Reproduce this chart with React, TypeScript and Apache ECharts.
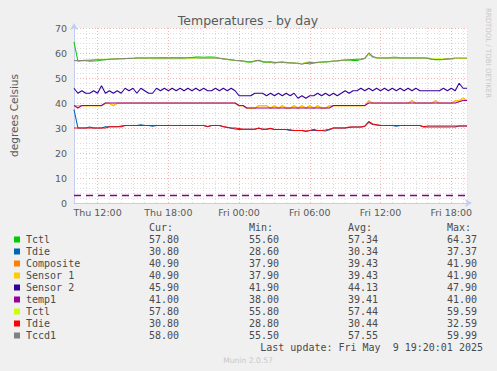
import React, { useEffect, useRef } from "react";
import * as echarts from "echarts";

// ---- time grid (hours since Thu 00:00) ----
const startHour = 10; // first sample, Thu 10:00
const stepHours = 1 / 3; // one sample every 20 minutes
const axisMinHour = 10;
const axisMaxHour = 43.333;
const majorHours = [12, 18, 24, 30, 36, 42];
const majorLabels = ["Thu 12:00", "Thu 18:00", "Fri 00:00", "Fri 06:00", "Fri 12:00", "Fri 18:00"];
const yMajorTicks = [0, 10, 20, 30, 40, 50, 60, 70];
const dashedLevel = 3.3;

const titleText = "Temperatures - by day";
const yAxisTitle = "degrees Celsius";
const watermark = "RRDTOOL / TOBI OETIKER";
const lastUpdate = "Last update: Fri May  9 19:20:01 2025";
const version = "Munin 2.0.57";
const headers = ["Cur:", "Min:", "Avg:", "Max:"];

const seriesNames = ["Tctl", "Tdie", "Composite", "Sensor 1", "Sensor 2", "temp1", "Tctl", "Tdie", "Tccd1"];
const seriesColors = ["#00CC00", "#0066B3", "#FF8000", "#FFCC00", "#330099", "#990099", "#CCFF00", "#FF0000", "#808080"];
const curVals = ["57.80", "30.80", "40.90", "40.90", "45.90", "41.00", "57.80", "30.80", "58.00"];
const minVals = ["55.60", "28.60", "37.90", "37.90", "41.90", "38.00", "55.80", "28.80", "55.50"];
const avgVals = ["57.34", "30.34", "39.43", "39.43", "44.13", "39.41", "57.44", "30.44", "57.55"];
const maxVals = ["64.37", "37.37", "41.90", "41.90", "47.90", "41.00", "59.59", "32.59", "59.99"];

// ---- series values (20-minute samples) ----
const tctlA = [
  64.4, 56.7, 56.9, 57.0, 56.7, 56.8, 56.9, 57.2, 57.3, 57.5,
  57.6, 57.6, 57.8, 57.7, 57.9, 57.8, 58.0, 58.0, 57.9, 58.0,
  58.0, 58.0, 58.0, 58.1, 58.0, 58.0, 58.0, 58.1, 58.0, 58.0,
  58.2, 58.4, 58.4, 58.3, 58.4, 58.4, 58.3, 57.9, 57.6, 57.4,
  57.2, 57.0, 56.9, 56.7, 56.4, 56.3, 56.7, 57.0, 56.4, 56.2,
  56.3, 56.0, 56.2, 56.3, 56.1, 56.0, 55.9, 55.8, 55.8, 55.9,
  55.6, 56.0, 56.2, 56.3, 56.4, 56.5, 56.7, 56.8, 57.0, 57.1,
  57.2, 57.0, 57.0, 57.4, 57.8, 59.6, 58.4, 58.0, 58.0, 58.0,
  58.0, 58.3, 58.3, 58.0, 58.0, 58.0, 58.0, 58.0, 58.0, 58.0,
  57.8, 57.5, 57.3, 57.3, 57.4, 57.5, 57.6, 57.8, 57.8, 57.8,
  57.8,
];
const tdieA = [
  37.4, 30.0, 30.0, 30.0, 30.4, 30.0, 30.0, 30.0, 30.5, 30.5,
  30.5, 30.5, 30.8, 31.0, 31.0, 31.0, 31.0, 31.3, 31.0, 31.0,
  30.7, 31.0, 31.0, 31.0, 31.0, 31.0, 31.0, 31.0, 31.0, 31.0,
  31.0, 31.0, 31.0, 31.0, 30.5, 31.0, 31.0, 31.0, 30.5, 30.2,
  29.9, 29.6, 29.4, 29.5, 29.5, 29.5, 29.5, 29.9, 29.5, 29.5,
  29.8, 29.4, 29.4, 29.4, 29.4, 29.0, 29.0, 29.0, 29.0, 28.6,
  29.0, 29.1, 29.0, 29.0, 28.8, 29.3, 30.0, 30.0, 30.0, 30.0,
  30.2, 30.4, 30.4, 30.4, 30.6, 32.3, 31.4, 31.2, 31.0, 31.0,
  31.0, 31.0, 30.7, 31.0, 31.0, 31.0, 31.0, 31.0, 31.0, 30.4,
  30.4, 30.4, 30.4, 30.4, 30.4, 30.4, 30.4, 30.4, 30.8, 30.8,
  30.8,
];
const composite = [
  38.9, 38.9, 38.9, 38.9, 38.9, 38.9, 38.9, 38.9, 39.9, 39.9,
  38.9, 39.9, 39.9, 39.9, 39.9, 39.9, 39.9, 39.9, 39.9, 39.9,
  39.9, 39.9, 39.9, 39.9, 39.9, 39.9, 39.9, 39.9, 39.9, 39.9,
  39.9, 39.9, 39.9, 39.9, 39.9, 39.9, 39.9, 39.9, 39.9, 39.9,
  39.9, 39.9, 38.9, 38.9, 37.9, 37.9, 37.9, 38.9, 38.9, 38.9,
  37.9, 38.9, 37.9, 38.9, 37.9, 37.9, 38.9, 37.9, 38.9, 37.9,
  38.9, 37.9, 38.9, 37.9, 37.9, 38.9, 38.9, 38.9, 38.9, 38.9,
  38.9, 38.9, 38.9, 38.9, 38.9, 40.9, 39.9, 39.9, 39.9, 39.9,
  39.9, 39.9, 39.9, 39.9, 39.9, 39.9, 40.9, 39.9, 39.9, 39.9,
  39.9, 39.9, 40.9, 39.9, 39.9, 39.9, 39.9, 40.9, 40.9, 41.9,
  40.9,
];
const sensor1 = [
  38.9, 38.9, 38.9, 38.9, 38.9, 38.9, 38.9, 38.9, 39.9, 39.9,
  38.9, 39.9, 39.9, 39.9, 39.9, 39.9, 39.9, 39.9, 39.9, 39.9,
  39.9, 39.9, 39.9, 39.9, 39.9, 39.9, 39.9, 39.9, 39.9, 39.9,
  39.9, 39.9, 39.9, 39.9, 39.9, 39.9, 39.9, 39.9, 39.9, 39.9,
  39.9, 39.9, 38.9, 38.9, 37.9, 37.9, 37.9, 38.9, 38.9, 38.9,
  37.9, 38.9, 37.9, 38.9, 37.9, 37.9, 38.9, 37.9, 38.9, 37.9,
  38.9, 37.9, 38.9, 37.9, 37.9, 38.9, 38.9, 38.9, 38.9, 38.9,
  38.9, 38.9, 38.9, 38.9, 38.9, 40.9, 39.9, 39.9, 39.9, 39.9,
  39.9, 39.9, 39.9, 39.9, 39.9, 39.9, 40.9, 39.9, 39.9, 39.9,
  39.9, 39.9, 40.9, 39.9, 39.9, 39.9, 39.9, 40.9, 40.9, 41.9,
  40.9,
];
const sensor2 = [
  45.9, 43.9, 44.9, 43.9, 43.9, 44.9, 43.9, 46.9, 43.9, 44.9,
  43.9, 44.9, 43.9, 45.9, 44.9, 45.9, 43.9, 45.9, 44.9, 43.9,
  43.9, 45.9, 44.9, 45.9, 44.9, 45.9, 44.9, 45.9, 44.9, 45.9,
  44.9, 45.9, 44.9, 45.9, 44.9, 44.9, 45.9, 44.9, 45.9, 44.9,
  45.9, 44.9, 42.9, 42.9, 42.9, 42.9, 43.9, 43.9, 43.9, 42.9,
  43.9, 42.9, 43.9, 42.9, 43.9, 42.9, 43.9, 41.9, 42.9, 41.9,
  42.9, 42.9, 43.9, 42.9, 43.9, 42.9, 43.9, 42.9, 43.9, 44.9,
  43.9, 44.9, 44.9, 45.9, 44.9, 45.9, 44.9, 45.9, 44.9, 45.9,
  44.9, 45.9, 44.9, 45.9, 44.9, 45.9, 44.9, 45.9, 44.9, 44.9,
  44.9, 44.9, 44.9, 44.9, 45.9, 44.9, 45.9, 44.9, 47.9, 45.9,
  45.9,
];
const temp1 = [
  39, 38, 39, 39, 39, 39, 39, 39, 40, 40,
  40, 40, 40, 40, 40, 40, 40, 40, 40, 40,
  40, 40, 40, 40, 40, 40, 40, 40, 40, 40,
  40, 40, 40, 40, 40, 40, 40, 40, 40, 40,
  40, 40, 39, 39, 38, 38, 38, 38, 38, 38,
  38, 38, 38, 38, 38, 38, 38, 38, 38, 38,
  38, 38, 38, 38, 38, 38, 39, 39, 39, 39,
  39, 39, 39, 39, 39, 40, 40, 40, 40, 40,
  40, 40, 40, 40, 40, 40, 40, 40, 40, 40,
  40, 40, 40, 40, 40, 40, 40, 40, 40.5, 41,
  41,
];
const tctlB = [
  56.8, 56.9, 57.0, 57.1, 57.2, 57.4, 57.5, 57.5, 57.5, 57.5,
  57.6, 57.7, 57.7, 57.8, 57.8, 57.9, 58.0, 58.0, 58.0, 58.0,
  57.6, 57.6, 57.7, 57.6, 57.6, 57.7, 57.6, 57.6, 57.6, 57.7,
  57.8, 58.0, 58.0, 58.0, 58.0, 58.0, 58.0, 57.9, 57.7, 57.5,
  57.3, 57.1, 57.0, 56.8, 56.6, 56.5, 56.8, 57.1, 56.6, 56.4,
  56.5, 56.2, 56.3, 56.4, 56.2, 56.1, 56.0, 55.9, 55.8, 56.2,
  56.7, 56.1, 56.3, 56.4, 56.5, 56.6, 56.8, 56.9, 57.1, 57.2,
  57.3, 57.4, 57.5, 57.6, 57.9, 59.6, 58.5, 58.0, 58.0, 58.0,
  58.0, 58.0, 58.0, 58.0, 58.0, 58.0, 58.0, 58.0, 58.0, 58.0,
  58.0, 57.7, 57.7, 57.7, 57.7, 57.7, 57.7, 57.8, 57.8, 57.8,
  57.8,
];
const tdieB = [
  30.0, 30.0, 30.0, 30.0, 30.0, 30.0, 30.0, 30.0, 30.0, 30.5,
  30.5, 30.5, 30.5, 31.0, 31.0, 31.0, 31.0, 31.0, 31.0, 31.0,
  31.0, 31.0, 31.0, 31.0, 31.0, 31.0, 31.0, 31.0, 31.0, 31.0,
  31.0, 31.0, 31.0, 31.0, 30.6, 31.0, 31.0, 31.0, 30.6, 30.3,
  30.0, 30.0, 29.8, 29.5, 29.5, 29.5, 29.5, 30.0, 29.5, 29.5,
  29.9, 29.4, 29.4, 29.4, 29.4, 29.3, 29.0, 29.0, 29.0, 28.8,
  29.0, 29.4, 29.0, 29.0, 29.2, 29.5, 30.0, 30.0, 30.0, 30.0,
  30.4, 30.4, 30.4, 30.4, 30.8, 32.6, 31.6, 31.3, 31.0, 31.0,
  31.0, 31.0, 31.0, 31.0, 31.0, 31.0, 31.0, 31.0, 31.0, 30.5,
  30.8, 30.8, 30.8, 30.8, 30.8, 30.8, 30.8, 30.8, 30.8, 30.8,
  30.8,
];
const tccd1 = [
  57.0, 56.9, 57.0, 57.1, 57.1, 57.2, 57.3, 57.3, 57.4, 57.5,
  57.6, 57.7, 57.7, 57.8, 57.8, 57.9, 58.0, 58.0, 58.0, 58.0,
  58.0, 58.0, 58.1, 58.0, 58.0, 58.1, 58.0, 58.0, 58.0, 58.1,
  58.2, 58.1, 58.0, 58.0, 58.0, 58.0, 58.0, 57.9, 57.7, 57.5,
  57.3, 57.1, 57.0, 56.8, 56.6, 56.5, 56.8, 57.1, 56.6, 56.4,
  56.5, 56.2, 56.3, 56.4, 56.2, 56.1, 56.0, 55.9, 55.5, 56.0,
  56.2, 56.1, 56.3, 56.4, 56.5, 56.6, 56.8, 56.9, 57.1, 57.2,
  57.3, 57.4, 57.5, 57.6, 57.9, 60.0, 58.6, 58.1, 58.0, 58.0,
  58.0, 58.0, 58.0, 58.0, 58.0, 58.0, 58.0, 58.0, 58.0, 58.0,
  58.0, 57.6, 57.4, 57.4, 57.5, 57.7, 57.8, 58.0, 58.0, 58.0,
  58.0,
];

const allValues = [tctlA, tdieA, composite, sensor1, sensor2, temp1, tctlB, tdieB, tccd1];

const TEXT = "#5A5A5A";
const SANS = "'DejaVu Sans', sans-serif";
const MONO = "'DejaVu Sans Mono', monospace";
const AXIS = "#C4CCF2";
const MINOR = "#DDDDDD";
const MAJOR = "#F0B4B4";

export default function App() {
  const ref = useRef<HTMLDivElement>(null);
  useEffect(() => {
    document.body.style.margin = "0";
    const chart = echarts.init(ref.current!, null, { renderer: "svg" });

    const lineSeries = allValues.map((vals, k) => ({
      type: "line",
      name: seriesNames[k],
      data: vals.map((v, i) => [startHour + i * stepHours, v]),
      showSymbol: false,
      symbol: "none",
      silent: true,
      z: 3 + k,
      lineStyle: { color: seriesColors[k], width: 1.1 },
      itemStyle: { color: seriesColors[k] },
    }));

    const graphics: any[] = [];
    graphics.push({
      type: "text",
      x: 248,
      y: 20,
      style: { text: titleText, fill: TEXT, font: `12.5px ${SANS}`, align: "center", verticalAlign: "middle" },
    });
    graphics.push({
      type: "text",
      x: 488,
      y: 53,
      rotation: -Math.PI / 2,
      style: { text: watermark, fill: "#C8C8C8", font: `7px ${SANS}`, align: "center", verticalAlign: "middle" },
    });
    const colX = [149, 249, 348, 447];
    headers.forEach((h, j) => {
      graphics.push({
        type: "text",
        x: colX[j],
        y: 227.5,
        style: { text: h, fill: "#4A4A4A", font: `10px ${MONO}`, align: "left", verticalAlign: "middle" },
      });
    });
    seriesNames.forEach((name, k) => {
      const y = 239.5 + 12 * k;
      graphics.push({ type: "rect", shape: { x: 14, y: y - 3, width: 6, height: 6 }, style: { fill: seriesColors[k] } });
      graphics.push({
        type: "text",
        x: 26,
        y,
        style: { text: name, fill: "#4A4A4A", font: `10px ${MONO}`, align: "left", verticalAlign: "middle" },
      });
      [curVals, minVals, avgVals, maxVals].forEach((arr, j) => {
        graphics.push({
          type: "text",
          x: colX[j],
          y,
          style: { text: arr[k], fill: "#4A4A4A", font: `10px ${MONO}`, align: "left", verticalAlign: "middle" },
        });
      });
    });
    graphics.push({
      type: "text",
      x: 483,
      y: 347.5,
      style: { text: lastUpdate, fill: "#4A4A4A", font: `10px ${MONO}`, align: "right", verticalAlign: "middle" },
    });
    graphics.push({
      type: "text",
      x: 248,
      y: 360,
      style: { text: version, fill: "#C8C8C8", font: `7.6px ${SANS}`, align: "center", verticalAlign: "middle" },
    });

    chart.setOption({
      animation: false,
      backgroundColor: "#F0F0F0",
      grid: { left: 67, top: 28, width: 400, height: 175, show: true, backgroundColor: "#FFFFFF", borderWidth: 0 },
      xAxis: {
        type: "value",
        min: axisMinHour,
        max: axisMaxHour,
        interval: 1,
        axisLine: {
          show: true,
          onZero: false,
          symbol: ["none", "arrow"],
          symbolSize: [6, 7],
          symbolOffset: [0, 5],
          lineStyle: { color: AXIS, width: 1 },
        },
        axisTick: { show: false },
        splitLine: { show: true, lineStyle: { color: MINOR, type: [1, 2], width: 1 } },
        axisLabel: {
          show: true,
          margin: 4,
          color: TEXT,
          fontFamily: SANS,
          fontSize: 9.5,
          showMinLabel: true,
          showMaxLabel: false,
          formatter: (v: number) => {
            const idx = majorHours.indexOf(Math.round(v * 1000) / 1000);
            return idx >= 0 ? majorLabels[idx] : "";
          },
        },
      },
      yAxis: [
        {
          type: "value",
          min: 0,
          max: 70,
          interval: 2,
          name: yAxisTitle,
          nameLocation: "middle",
          nameGap: 55,
          nameTextStyle: { color: TEXT, fontFamily: SANS, fontSize: 10.5 },
          axisLine: {
            show: true,
            onZero: false,
            symbol: ["none", "arrow"],
            symbolSize: [6, 7],
            symbolOffset: [0, 5],
            lineStyle: { color: AXIS, width: 1 },
          },
          axisTick: { show: false },
          splitLine: { show: true, lineStyle: { color: MINOR, type: [1, 2], width: 1 } },
          axisLabel: {
            margin: 7,
            color: TEXT,
            fontFamily: SANS,
            fontSize: 9.5,
            formatter: (v: number) => (yMajorTicks.indexOf(v) >= 0 ? String(v) : ""),
          },
        },
        {
          type: "value",
          min: 0,
          max: 70,
          interval: 10,
          position: "left",
          axisLine: { show: false },
          axisTick: { show: false },
          axisLabel: { show: false },
          splitLine: { show: true, lineStyle: { color: MAJOR, type: [1, 2], width: 1 } },
        },
      ],
      series: [
        {
          type: "line",
          data: [],
          z: 2,
          silent: true,
          markLine: {
            silent: true,
            symbol: ["none", "none"],
            label: { show: false },
            animation: false,
            data: [
              ...majorHours.map((h) => ({ xAxis: h, lineStyle: { color: MAJOR, type: [1, 2], width: 1 } })),
              { yAxis: dashedLevel, lineStyle: { color: "#880088", type: [7, 5], width: 1.3 } },
            ],
          },
        },
        ...lineSeries,
      ],
      graphic: graphics,
    });
    return () => chart.dispose();
  }, []);
  return <div ref={ref} style={{ position: "absolute", left: 0, top: 0, width: 497, height: 371 }} />;
}
